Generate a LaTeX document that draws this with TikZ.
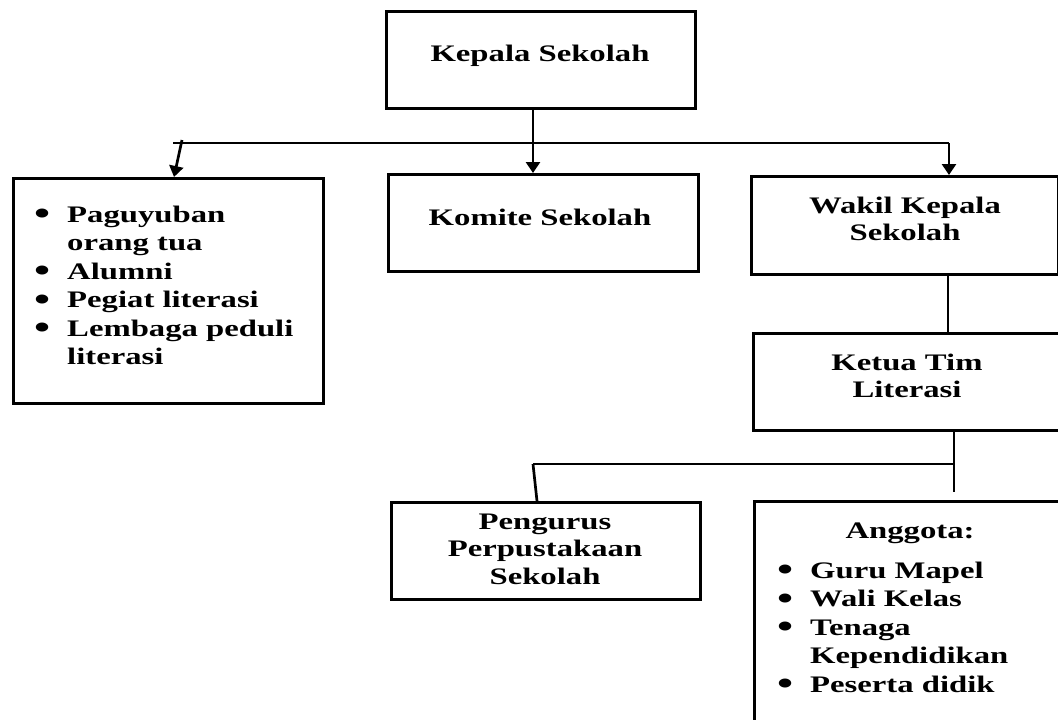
\documentclass[tikz,border=0pt]{standalone}
\usepackage{fontspec}
\setmainfont{Liberation Serif}[FakeStretch=1.38]
\usetikzlibrary{arrows.meta}
\newcommand\orgfont{\fontsize{23.7}{28.5}\selectfont\bfseries}
\newcommand\orgbul{\makebox[33pt][l]{\smash{\raisebox{-2.5pt}{\scalebox{1.4}{•}}}}}
\newcommand\orgind{\hspace*{33pt}}
\begin{document}
\begin{tikzpicture}[x=1pt,y=-1pt,
  box/.style={draw, line width=3pt, rectangle, inner sep=0pt, anchor=north west},
  boxtext/.style={inner sep=0pt, font=\orgfont, anchor=base},
  listtext/.style={inner sep=0pt, font=\orgfont, anchor=base west},
  conn/.style={line width=2.7pt},
  arr/.style={conn, -{Triangle[width=14pt,length=11pt]}}]
\fill[white] (0,0) rectangle (1058,720);
\useasboundingbox (0,0) rectangle (1058,720);

% boxes
\node[box, minimum width=309pt, minimum height=97pt] (kepala) at (385,10) {};
\node[box, minimum width=310pt, minimum height=225pt] (mitra) at (12,177) {};
\node[box, minimum width=310pt, minimum height=97pt] (komite) at (387,173) {};
\node[box, minimum width=307pt, minimum height=98pt] (wakil) at (750,175) {};
\node[box, minimum width=310pt, minimum height=97pt] (ketua) at (752,332) {};
\node[box, minimum width=309pt, minimum height=97pt] (pengurus) at (390,501) {};
\node[box, minimum width=310pt, minimum height=260pt] (anggota) at (753,500) {};

% box texts
\node[boxtext] (kepalatext) at (540,61) {Kepala Sekolah};
\node[boxtext] (komitetext) at (540,225) {Komite Sekolah};
\node[boxtext] (wakiltext) at (905,213) {\begin{tabular}[t]{@{}c@{}}Wakil Kepala\\[-1pt]Sekolah\end{tabular}};
\node[boxtext] (ketuatext) at (907,370) {\begin{tabular}[t]{@{}c@{}}Ketua Tim\\[-1pt]Literasi\end{tabular}};
\node[boxtext] (pengurustext) at (545,529) {\begin{tabular}[t]{@{}c@{}}Pengurus\\[-1pt]Perpustakaan\\[-1pt]Sekolah\end{tabular}};

% list texts
\node[listtext] (mitratext) at (34,222) {\begin{tabular}[t]{@{}l@{}}
\orgbul Paguyuban\\
\orgind orang tua\\
\orgbul Alumni\\
\orgbul Pegiat literasi\\
\orgbul Lembaga peduli\\
\orgind literasi
\end{tabular}};
\node[boxtext] (anggotahead) at (910,538) {Anggota:};
\node[listtext] (anggotalist) at (777,578) {\begin{tabular}[t]{@{}l@{}}
\orgbul Guru Mapel\\
\orgbul Wali Kelas\\
\orgbul Tenaga\\
\orgind Kependidikan\\
\orgbul Peserta didik
\end{tabular}};

% connector points
\coordinate (hl) at (173,143);
\coordinate (hr) at (949,143);
\coordinate (hs) at (182,140);
\coordinate (lx) at (174,0);
\coordinate (cx) at (533,143);
\coordinate (wx) at (948,0);
\coordinate (kx) at (954,492);
\coordinate (pl) at (533,464);
\coordinate (pr) at (954,464);
\coordinate (pd) at (537,0);

% connectors
\draw[conn] (hl) -- (hr);
\draw[arr] (kepala.south -| cx) -- (komite.north -| cx);
\draw[arr] (hs) -- (mitra.north -| lx);
\draw[arr] (hr) -- (wakil.north -| hr);
\draw[conn] (wakil.south -| wx) -- (ketua.north -| wx);
\draw[conn] (ketua.south -| kx) -- (kx);
\draw[conn] (pl) -- (pr);
\draw[conn] (pl) -- (pengurus.north -| pd);
\end{tikzpicture}
\end{document}
